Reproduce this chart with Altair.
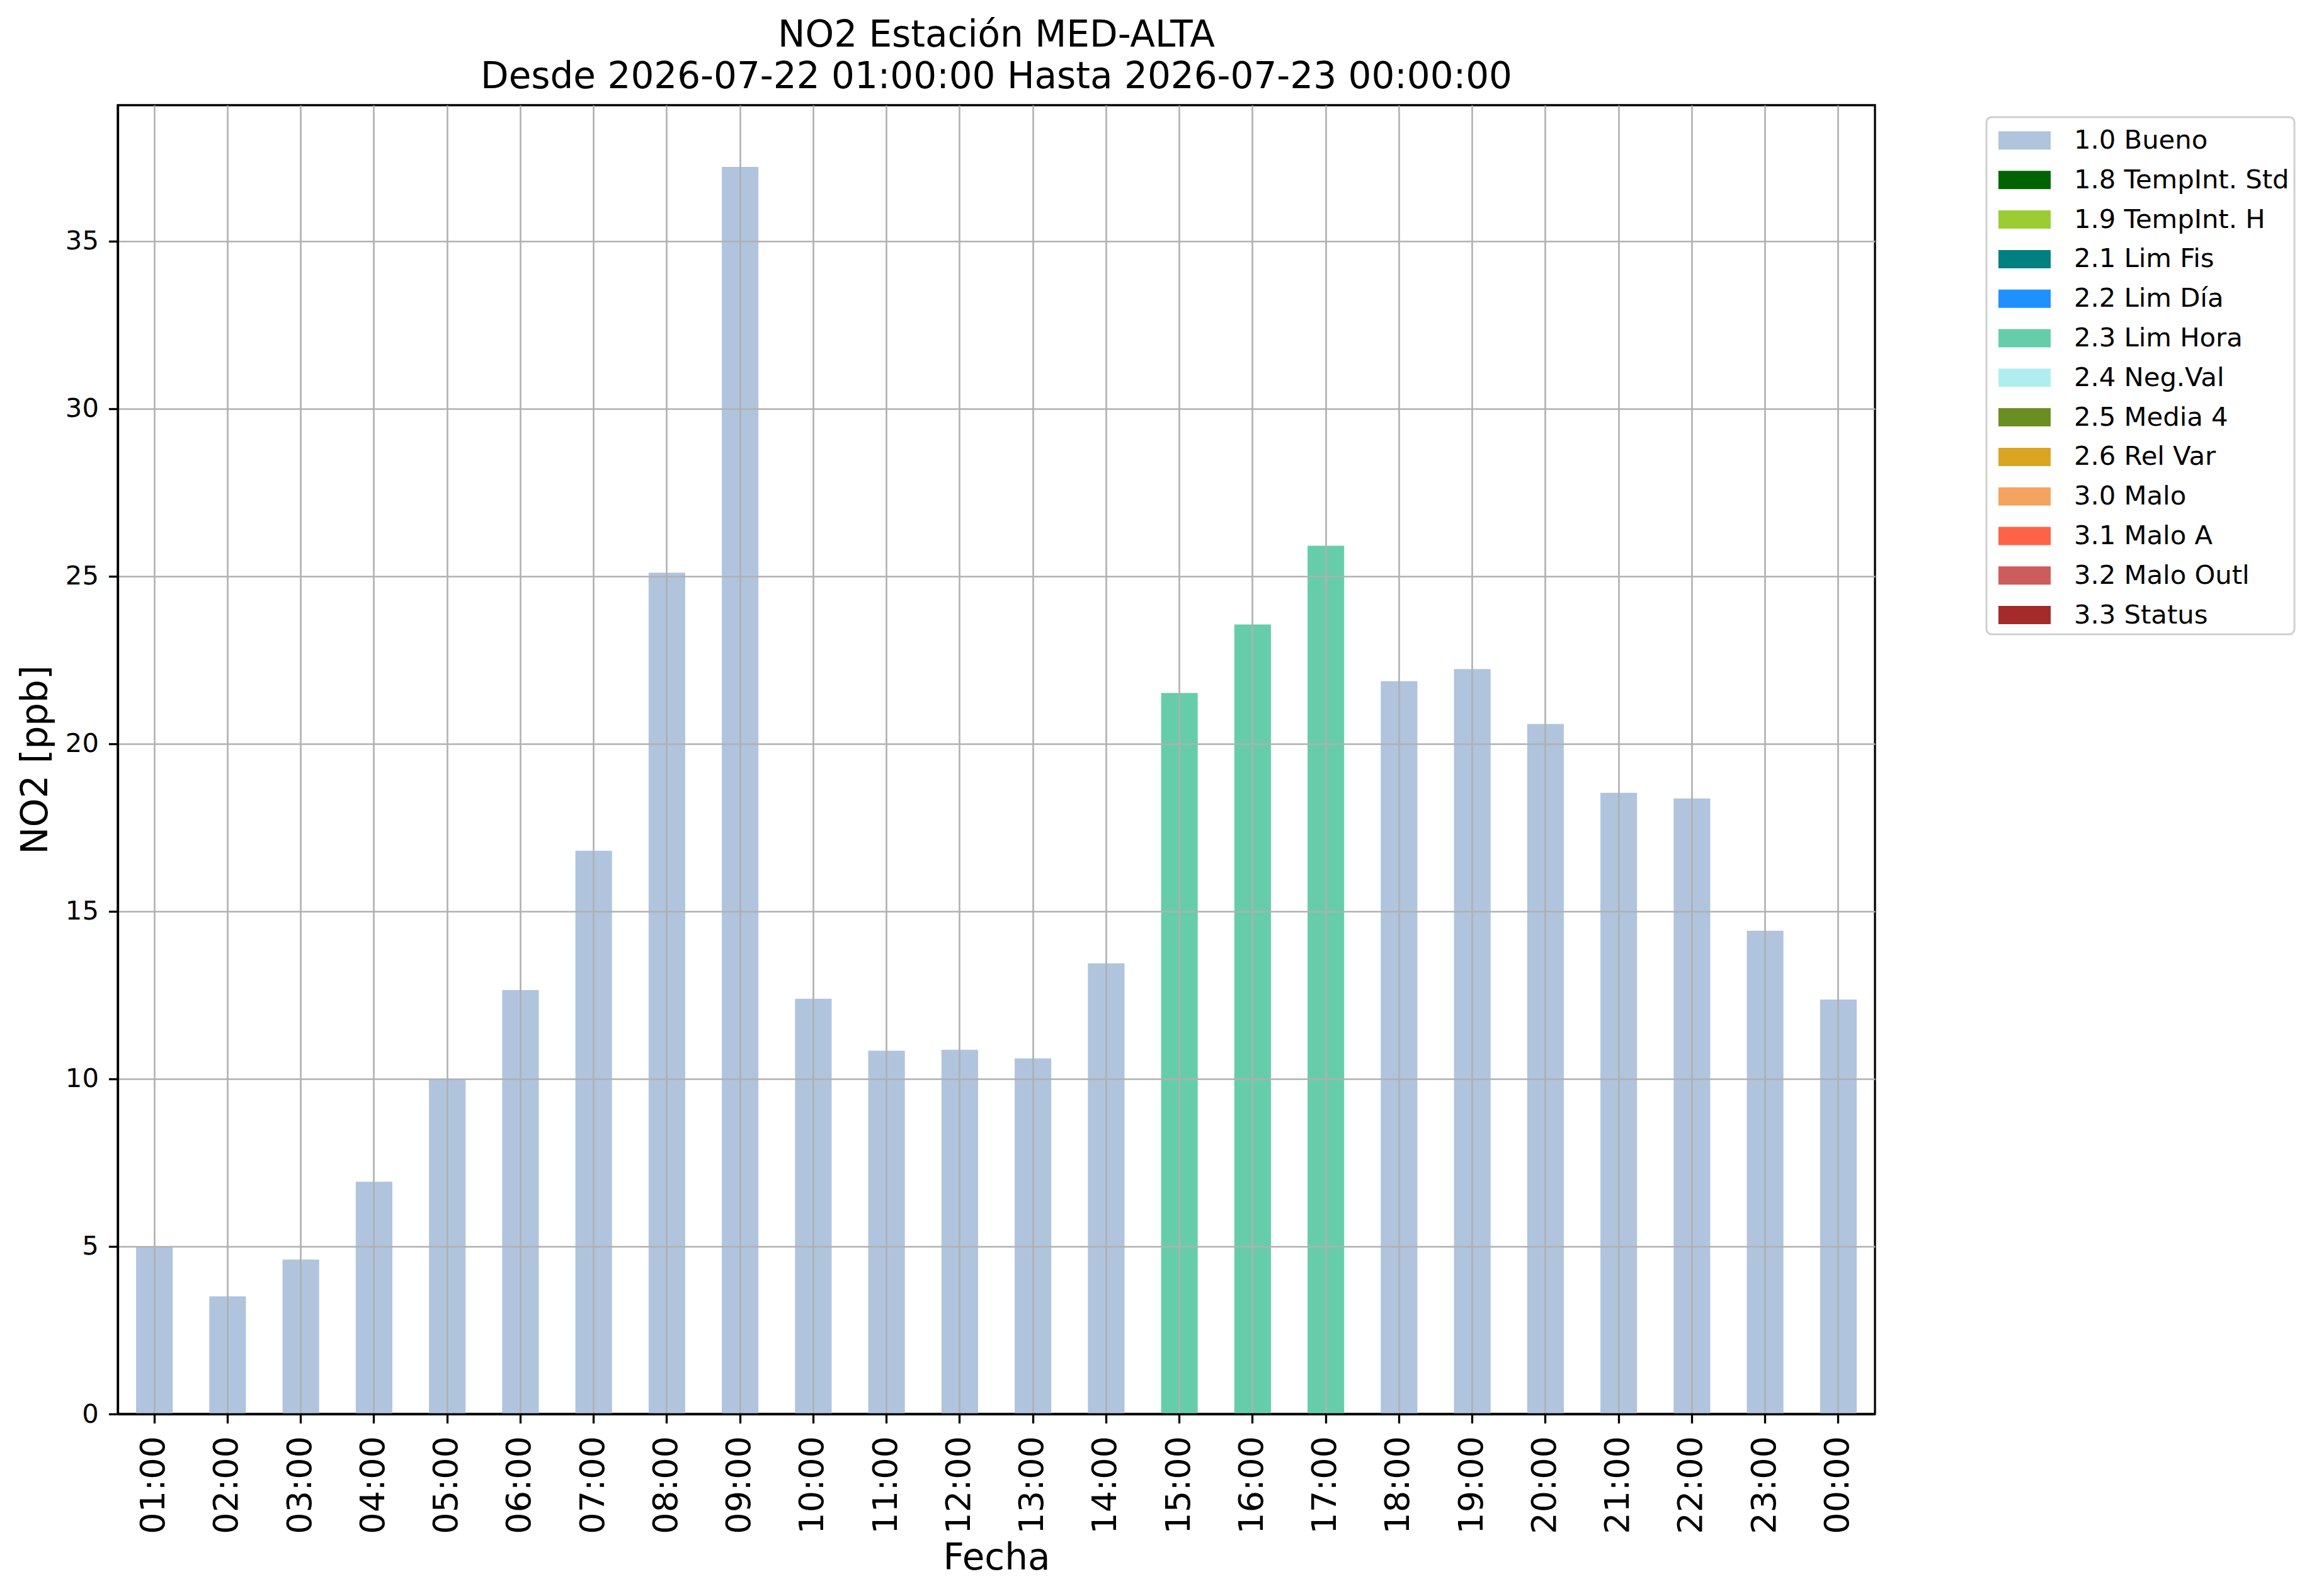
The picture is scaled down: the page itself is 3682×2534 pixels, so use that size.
import altair as alt
import pandas as pd

hours = ["01:00", "02:00", "03:00", "04:00", "05:00", "06:00", "07:00", "08:00",
         "09:00", "10:00", "11:00", "12:00", "13:00", "14:00", "15:00", "16:00",
         "17:00", "18:00", "19:00", "20:00", "21:00", "22:00", "23:00", "00:00"]
no2 = [5.0, 3.51, 4.61, 6.93, 10.0, 12.65, 16.81, 25.11, 37.22, 12.39, 10.84, 10.87,
       10.61, 13.45, 21.52, 23.56, 25.91, 21.87, 22.23, 20.59, 18.54, 18.37, 14.42, 12.37]
flags = ["1.0 Bueno"] * 14 + ["2.3 Lim Hora"] * 3 + ["1.0 Bueno"] * 7

legend_labels = ["1.0 Bueno", "1.8 TempInt. Std", "1.9 TempInt. H", "2.1 Lim Fis",
                 "2.2 Lim Día", "2.3 Lim Hora", "2.4 Neg.Val", "2.5 Media 4",
                 "2.6 Rel Var", "3.0 Malo", "3.1 Malo A", "3.2 Malo Outl", "3.3 Status"]
legend_colors = ["#B0C4DE", "#006400", "#9ACD32", "#008080", "#1E90FF", "#66CDAA",
                 "#AFEEEE", "#6B8E23", "#DAA520", "#F4A460", "#FF6347", "#CD5C5C",
                 "#A52A2A"]
y_ticks = [0, 5, 10, 15, 20, 25, 30, 35]

df = pd.DataFrame({"Fecha": hours, "NO2": no2, "Flag": flags})

W, H = 2790, 2078
FONT = "DejaVu Sans"

chart = alt.Chart(df).mark_bar(opacity=1, strokeWidth=0).encode(
    x=alt.X("Fecha:N", sort=hours, title="Fecha",
            scale=alt.Scale(paddingInner=0.5, paddingOuter=0.25),
            axis=alt.Axis(labelAngle=270, labelFontSize=54, labelPadding=20,
                          titleY=200, titleBaseline="top", zindex=1)),
    y=alt.Y("NO2:Q", title="NO2 [ppb]",
            scale=alt.Scale(domain=[0, 39.06], nice=False, zero=True),
            axis=alt.Axis(values=y_ticks, labelFontSize=41.7, labelPadding=16,
                          titleX=-101, titleY=H / 2, zindex=1)),
    color=alt.Color("Flag:N",
                    scale=alt.Scale(domain=legend_labels, range=legend_colors),
                    legend=alt.Legend(
                        title=None, orient="none", legendX=2967, legendY=19,
                        symbolType="M-1.43,-0.5H1.43V0.5H-1.43Z", symbolSize=3364,
                        symbolStrokeWidth=0, symbolOpacity=1,
                        labelFontSize=41.7, labelColor="black", labelFont=FONT,
                        labelOffset=49.5, symbolOffset=23.5, padding=8,
                        rowPadding=11.8, strokeColor="#d0d0d0",
                        fillColor="white", cornerRadius=8, labelLimit=600)),
).properties(
    width=W, height=H,
    title=alt.TitleParams(
        text=["NO2 Estación MED-ALTA",
              "Desde 2026-07-22 01:00:00 Hasta 2026-07-23 00:00:00"],
        fontSize=58, font=FONT, fontWeight="normal", color="black",
        anchor="middle", baseline="bottom", lineHeight=66, offset=-43),
    autosize=alt.AutoSizeParams(type="none"),
    padding={"left": 179, "top": 159, "right": 680, "bottom": 270},
).configure(
    font=FONT, background="white"
).configure_view(
    stroke="black", strokeWidth=3.3
).configure_legend(
    strokeWidth=3
).configure_axis(
    domainColor="black", domainWidth=3.3, tickColor="black", tickWidth=3.3,
    tickSize=14.6, gridColor="#b0b0b0", gridWidth=2.6, grid=True,
    labelColor="black", labelFont=FONT, titleFont=FONT, titleFontSize=58,
    titleFontWeight="normal", titleColor="black"
)

chart.save("out.html", embed_options={"renderer": "svg", "actions": False})
